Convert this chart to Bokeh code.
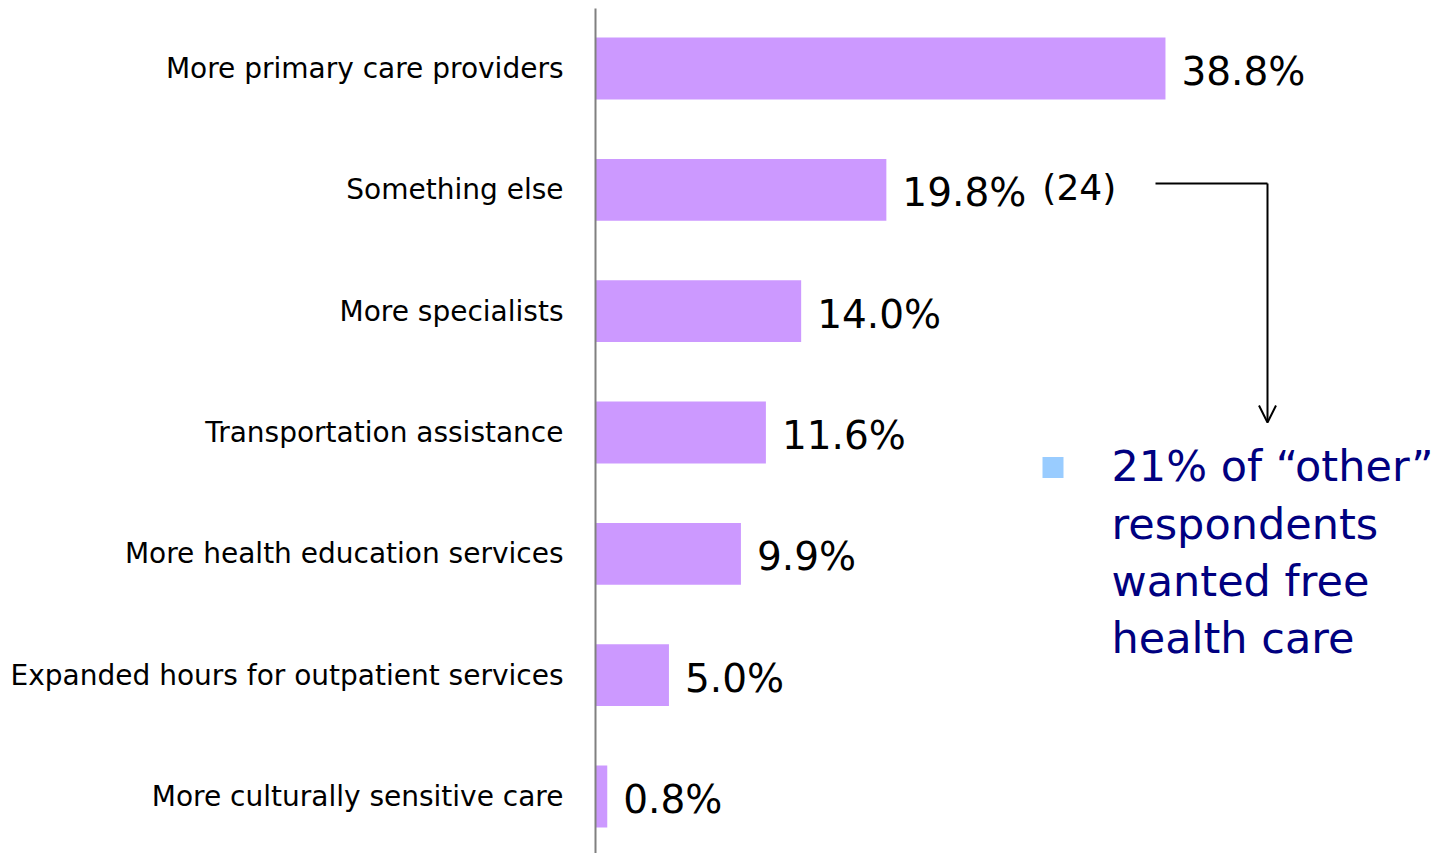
from bokeh.plotting import figure
from bokeh.models import ColumnDataSource, FixedTicker, Arrow, OpenHead, Range1d
from bokeh.core.properties import value
from bokeh.embed import file_html
from bokeh.resources import INLINE

# ---- data (top to bottom) ----
categories = [
    "More primary care providers",
    "Something else",
    "More specialists",
    "Transportation assistance",
    "More health education services",
    "Expanded hours for outpatient services",
    "More culturally sensitive care",
]
percents = [38.8, 19.8, 14.0, 11.6, 9.9, 5.0, 0.8]
count_note = {"Something else": "(24)"}
note_lines = ["21% of \u201cother\u201d", "respondents", "wanted free", "health care"]

FONT = "DejaVu Sans"
n = len(categories)
ypos = [n - 1 - i for i in range(n)]

src = ColumnDataSource(dict(
    y=ypos,
    v=percents,
    lbl=[f"{v:.1f}%" for v in percents],
))

Y_TOP = 6.4945
Y_STEP = 121.33
X_PX = 14.69

p = figure(width=1433, height=853, output_backend="svg", toolbar_location=None,
           x_range=Range1d(0, 838 / X_PX), y_range=Range1d(-0.47, Y_TOP),
           min_border_left=595, min_border_right=0, min_border_top=8, min_border_bottom=0)

p.hbar(y="y", right="v", left=0, height=0.51, source=src,
       fill_color="#CC99FF", line_color=None)

p.text(x="v", y="y", text="lbl", source=src, x_offset=16, y_offset=3,
       text_baseline="middle", text_align="left",
       text_font=value(FONT), text_font_size="39px", text_color="#000000")

# count note next to "Something else"
ci = categories.index("Something else")
p.text(x=[percents[ci]], y=[ypos[ci]], text=[count_note["Something else"]],
       x_offset=156, y_offset=-2, text_baseline="middle", text_align="left",
       text_font=value(FONT), text_font_size="36px", text_color="#000000")

# connector + arrow (positions in page pixels converted to data units)
def dx(page_x):
    return (page_x - 595) / X_PX
def dy(page_y):
    return Y_TOP - (page_y - 8) / Y_STEP

p.segment(x0=[dx(1155)], y0=[dy(183)], x1=[dx(1267)], y1=[dy(183)],
          line_color="#000000", line_width=2)
p.add_layout(Arrow(end=OpenHead(size=17, line_color="#000000", line_width=2),
                   x_start=dx(1267), y_start=dy(183), x_end=dx(1267), y_end=dy(422),
                   line_color="#000000", line_width=2))

# bullet + note text
p.scatter(x=[dx(1052.5)], y=[dy(467)], marker="square", size=21,
          fill_color="#99CCFF", line_color=None)
mids = [466 + 57.2 * i for i in range(len(note_lines))]
p.text(x=[dx(1111)] * len(note_lines), y=[dy(m) for m in mids], text=note_lines,
       text_baseline="middle", text_align="left",
       text_font=value(FONT), text_font_size="43px", text_color="#000080")

# axes
p.xaxis.visible = False
p.xgrid.visible = False
p.ygrid.visible = False
p.outline_line_color = None

ax = p.yaxis[0]
ax.ticker = FixedTicker(ticks=ypos)
ax.major_label_overrides = {y: c for y, c in zip(ypos, categories)}
ax.major_label_text_font = FONT
ax.major_label_text_font_size = "28px"
ax.major_label_text_color = "#000000"
ax.major_label_standoff = 26
ax.major_tick_line_color = None
ax.minor_tick_line_color = None
ax.axis_line_color = "#808080"
ax.axis_line_width = 2

open("out.html", "w").write(file_html(p, INLINE))
